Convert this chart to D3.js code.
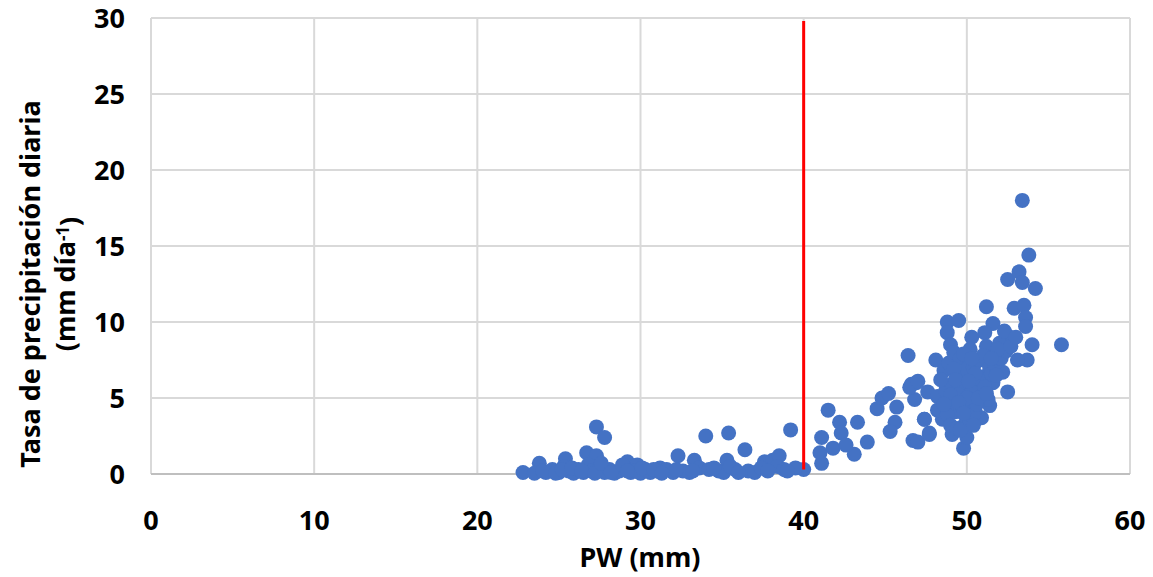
<!DOCTYPE html>
<html>
<head>
<meta charset="utf-8">
<script src="https://cdn.jsdelivr.net/npm/d3@7"></script>
<style>
  body { margin: 0; background: #fff; }
  text { font-family: "Noto Sans", sans-serif; font-weight: bold; fill: #000; }
</style>
</head>
<body>
<div id="chart"></div>
<script>
// PW (mm) and daily precipitation rate (mm/day)
var pw = [
  22.8, 23.8, 25.4, 26.7, 27.3, 27.8, 27.3, 29.2, 29.8, 31.2, 32.3, 33.3, 34.0, 35.4, 35.3, 36.4, 37.6, 38.1, 38.5, 39.2, 40.0,
  23.5, 24.2, 24.6, 25.0, 25.3, 25.6, 25.9, 26.2, 26.5, 26.8, 27.0, 27.5, 27.8, 28.1, 28.4, 28.7, 29.0, 29.4, 29.7, 30.0,
  30.3, 30.6, 31.0, 31.6, 32.0, 32.6, 33.0, 33.6, 34.2, 34.8, 35.1, 35.8, 36.6, 37.0, 37.4, 38.4, 38.8, 39.5,
  24.0, 24.8, 25.2, 25.8, 26.4, 27.2, 27.6, 28.2, 28.9, 29.2, 30.1, 30.8, 31.3, 32.2, 33.2, 34.5, 35.5, 36.0, 37.8, 39.0,
  41.5, 41.1, 41.0, 41.1, 42.2, 42.3, 43.3, 43.9, 43.1, 41.8, 42.6, 44.5, 44.8, 45.2, 45.7, 45.6, 45.3, 46.6, 46.9, 46.8,
  47.4, 47.6, 46.7, 47.0, 47.7, 46.4,
  53.4, 53.8, 52.5, 53.2, 53.4, 54.2, 51.2, 52.9, 53.5, 53.6, 53.6, 48.8, 49.5, 48.8, 55.8, 54.0, 53.7, 53.1, 51.6, 51.1,
  50.3, 48.1, 49.0, 52.5, 52.8, 52.5, 51.4, 50.9, 49.8, 50.0, 49.1, 48.5, 47.7, 47.4, 46.5, 47.0, 48.2, 48.2,
  48.6, 48.9, 49.2, 49.4, 49.6, 49.8, 50.0, 50.2, 50.4, 50.6, 50.8, 51.0, 51.2, 51.4, 51.6, 51.8, 52.0, 52.2,
  48.7, 48.9, 49.1, 49.3, 49.5, 49.7, 49.9, 50.1, 50.3, 50.5, 50.7, 50.9, 51.1, 51.3, 51.5, 51.7, 52.1, 52.4,
  48.4, 48.8, 49.0, 49.4, 49.6, 50.2, 50.4, 50.6, 49.2, 49.8, 50.0, 50.5, 51.0, 51.9, 52.3, 52.7, 53.0,
  49.0, 49.3, 49.5, 50.1, 50.3, 50.7, 51.2, 51.5, 48.6, 49.8, 50.4, 51.8
];
var rate = [
  0.1, 0.7, 1.0, 1.4, 3.1, 2.4, 1.2, 0.8, 0.6, 0.4, 1.2, 0.9, 2.5, 2.7, 0.9, 1.6, 0.8, 0.9, 1.2, 2.9, 0.3,
  0.05, 0.1, 0.3, 0.1, 0.5, 0.2, 0.05, 0.3, 0.1, 0.6, 0.2, 0.4, 0.1, 0.3, 0.05, 0.2, 0.4, 0.1, 0.2, 0.05,
  0.3, 0.1, 0.2, 0.3, 0.1, 0.2, 0.1, 0.4, 0.3, 0.2, 0.1, 0.3, 0.2, 0.1, 0.4, 0.5, 0.3, 0.4,
  0.2, 0.05, 0.3, 0.4, 0.2, 0.05, 0.7, 0.1, 0.6, 0.2, 0.4, 0.3, 0.05, 0.3, 0.2, 0.4, 0.5, 0.1, 0.2, 0.2,
  4.2, 2.4, 1.4, 0.7, 3.4, 2.7, 3.4, 2.1, 1.3, 1.7, 1.9, 4.3, 5.0, 5.3, 4.4, 3.4, 2.8, 5.9, 6.0, 4.9,
  3.6, 5.4, 2.2, 2.1, 2.7, 7.8,
  18.0, 14.4, 12.8, 13.3, 12.6, 12.2, 11.0, 10.9, 11.1, 10.3, 9.7, 10.0, 10.1, 9.3, 8.5, 8.5, 7.5, 7.5, 9.9, 9.3,
  9.0, 7.5, 8.5, 9.1, 8.9, 5.4, 4.5, 3.7, 1.7, 2.4, 2.6, 3.6, 2.6, 3.6, 5.7, 6.1, 5.1, 4.2,
  6.8, 7.3, 8.0, 6.5, 7.6, 5.6, 6.9, 8.2, 7.0, 5.8, 7.5, 6.4, 8.4, 7.0, 6.0, 7.8, 8.6, 6.7,
  5.5, 4.6, 5.9, 4.1, 5.2, 4.5, 3.3, 4.8, 5.4, 4.2, 6.3, 5.1, 5.7, 4.9, 6.6, 7.2, 7.6, 8.1,
  6.2, 3.9, 3.2, 3.0, 2.9, 3.5, 3.9, 4.6, 6.9, 7.9, 5.0, 6.6, 7.8, 8.2, 9.4, 8.4, 9.0,
  5.2, 6.2, 4.7, 6.1, 7.6, 5.0, 5.3, 7.6, 4.6, 4.0, 3.2, 6.5
];
var xTicks = [0, 10, 20, 30, 40, 50, 60];
var yTicks = [0, 5, 10, 15, 20, 25, 30];
var threshold = 40;

var width = 1153, height = 577;
var margin = {left: 151, right: 23, top: 18, bottom: 103};

var svg = d3.select('#chart').append('svg')
  .attr('width', width)
  .attr('height', height);

var x = d3.scaleLinear().domain([0, 60]).range([margin.left, width - margin.right]);
var y = d3.scaleLinear().domain([0, 30]).range([height - margin.bottom, margin.top]);

// gridlines
svg.append('g')
  .selectAll('line')
  .data(yTicks.slice(1))
  .enter().append('line')
  .attr('x1', x(0)).attr('x2', x(60))
  .attr('y1', function(d) { return y(d); })
  .attr('y2', function(d) { return y(d); })
  .attr('stroke', '#d9d9d9').attr('stroke-width', 2);

svg.append('g')
  .selectAll('line')
  .data(xTicks)
  .enter().append('line')
  .attr('x1', function(d) { return x(d); })
  .attr('x2', function(d) { return x(d); })
  .attr('y1', y(0)).attr('y2', y(30))
  .attr('stroke', '#d9d9d9').attr('stroke-width', 2);

// x axis line
svg.append('line')
  .attr('x1', x(0)).attr('x2', x(60))
  .attr('y1', y(0)).attr('y2', y(0))
  .attr('stroke', '#bfbfbf').attr('stroke-width', 2);

// tick labels
svg.append('g')
  .selectAll('text')
  .data(xTicks)
  .enter().append('text')
  .attr('x', function(d) { return x(d); })
  .attr('y', 530)
  .attr('text-anchor', 'middle')
  .style('font-size', '27px')
  .text(function(d) { return d; });

svg.append('g')
  .selectAll('text')
  .data(yTicks)
  .enter().append('text')
  .attr('x', 125)
  .attr('y', function(d) { return y(d); })
  .attr('dy', '0.36em')
  .attr('text-anchor', 'end')
  .style('font-size', '27px')
  .text(function(d) { return d; });

// axis titles
svg.append('text')
  .attr('x', 640).attr('y', 567)
  .attr('text-anchor', 'middle')
  .style('font-size', '27px')
  .text('PW (mm)');

var yTitle = svg.append('text')
  .attr('transform', 'translate(30,284) rotate(-90)')
  .attr('text-anchor', 'middle')
  .style('font-size', '27px');
yTitle.append('tspan').attr('x', 0).attr('dy', '0.36em').text('Tasa de precipitación diaria');
var line2 = yTitle.append('tspan').attr('x', 0).attr('dy', '1.32em');
line2.append('tspan').text('(mm día');
line2.append('tspan').attr('dy', '-0.4em').style('font-size', '17px').text('-1');
line2.append('tspan').attr('dy', '0.4em').text(')');

// points
svg.append('g')
  .selectAll('circle')
  .data(d3.range(pw.length))
  .enter().append('circle')
  .attr('cx', function(i) { return x(pw[i]); })
  .attr('cy', function(i) { return y(rate[i]); })
  .attr('r', 7.5)
  .attr('fill', '#4472c4');

// threshold line
svg.append('line')
  .attr('x1', x(threshold)).attr('x2', x(threshold))
  .attr('y1', y(0.3)).attr('y2', y(29.8))
  .attr('stroke', '#ff0000').attr('stroke-width', 3);
</script>
</body>
</html>
